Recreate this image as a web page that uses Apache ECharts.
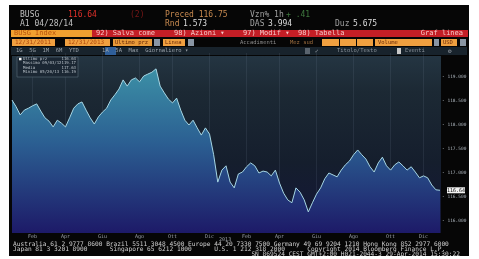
<!DOCTYPE html>
<html lang="it">
<head>
<meta charset="UTF-8">
<title>BUSG Index</title>
<script src="https://cdn.jsdelivr.net/npm/echarts@6/dist/echarts.min.js"></script>
<style>
    html, body {margin: 0; padding: 0; background: #fff;}
    #main {width: 479px; height: 259px;}
</style>
</head>
<body>
<div id="main"></div>
<script>
    // prezzo settimanale BUSG, dal 02/01/2012
    var firstWeek = '2012-01-02';
    var prices = [
        118.52, 118.38, 118.21, 118.31, 118.35, 118.40, 118.44, 118.29, 118.15, 118.08,
        117.96, 118.10, 118.04, 117.96, 118.15, 118.35, 118.44, 118.48, 118.31, 118.15,
        118.02, 118.17, 118.27, 118.35, 118.52, 118.63, 118.75, 118.94, 118.81, 118.94,
        118.98, 118.90, 119.02, 119.06, 119.10, 119.17, 118.81, 118.67, 118.54, 118.46,
        118.56, 118.31, 118.10, 118.00, 118.10, 117.94, 117.79, 117.94, 117.81, 117.38,
        116.81, 117.06, 117.15, 116.81, 116.69, 116.98, 117.02, 117.13, 117.21, 117.15,
        117.00, 117.04, 117.02, 116.94, 117.06, 116.79, 116.58, 116.44, 116.38, 116.69,
        116.60, 116.44, 116.19, 116.38, 116.56, 116.69, 116.88, 117.00, 116.96, 116.92,
        117.06, 117.17, 117.25, 117.38, 117.48, 117.38, 117.29, 117.13, 117.02, 117.21,
        117.33, 117.15, 117.06, 117.17, 117.23, 117.15, 117.06, 117.13, 117.02, 116.90,
        116.94, 116.90, 116.75, 116.65, 116.64
    ];
    var monthNames = ['Gen', 'Feb', 'Mar', 'Apr', 'Mag', 'Giu', 'Lug', 'Ago', 'Set', 'Ott', 'Nov', 'Dic'];
    var labelMonths = [1, 3, 5, 7, 9, 11];   // Feb, Apr, Giu, Ago, Ott, Dic
    var yearLabel = '2013';
    var footer = [
        'Australia 61 2 9777 8600 Brazil 5511 3048 4500 Europe 44 20 7330 7500 Germany 49 69 9204 1210 Hong Kong 852 2977 6000',
        'Japan 81 3 3201 8900      Singapore 65 6212 1000      U.S. 1 212 318 2000      Copyright 2014 Bloomberg Finance L.P.',
        'SN 869524 CEST GMT+2:00 H021-2044-3 29-Apr-2014 15:30:22'
    ];

    // date settimanali (una per prezzo)
    var weeks = [];
    var d0 = new Date(firstWeek + 'T00:00:00Z');
    for (var i = 0; i < prices.length; i++) {
        var d = new Date(d0.getTime() + i * 7 * 86400000);
        weeks.push(d.toISOString().slice(0, 10));
    }
    function isLabelWeek(idx) {
        var d = new Date(weeks[idx] + 'T00:00:00Z');
        return d.getUTCDate() <= 7 && labelMonths.indexOf(d.getUTCMonth()) >= 0;
    }
    function shortDate(s) {
        return s.slice(5, 7) + '/' + s.slice(8, 10) + '/' + s.slice(2, 4);
    }

    // statistiche per il riquadro
    var maxV = Math.max.apply(null, prices), minV = Math.min.apply(null, prices);
    var sum = 0;
    prices.forEach(function (v) { sum += v; });
    var media = sum / prices.length;
    var last = prices[prices.length - 1];
    var stats = [
        ['Ultimo prz', last.toFixed(2)],
        ['Massimo ' + shortDate(weeks[prices.indexOf(maxV)]), maxV.toFixed(2)],
        ['Media', media.toFixed(2)],
        ['Minimo ' + shortDate(weeks[prices.indexOf(minV)]), minV.toFixed(2)]
    ];

    var MONO = 'DejaVu Sans Mono';
    function txt(x, y, s, color, size, align) {
        return {
            type: 'text', x: x, y: y, z: 50,
            style: {text: s, fill: color, fontFamily: MONO, fontSize: size || 8,
                    align: align || 'left', verticalAlign: 'middle'}
        };
    }
    function box(x, y, w, h, color, z) {
        return {type: 'rect', z: z || 40, shape: {x: x, y: y, width: w, height: h}, style: {fill: color}};
    }

    var graphics = [
        // pannello nero e sfondo del grafico
        {type: 'rect', z: -20, shape: {x: 9, y: 5, width: 460, height: 251}, style: {fill: '#060606'}},
        {type: 'rect', z: -10, shape: {x: 12, y: 56, width: 429, height: 177},
            style: {fill: new echarts.graphic.LinearGradient(0, 0, 0, 1, [
                {offset: 0, color: '#243542'}, {offset: 0.2, color: '#1c2934'},
                {offset: 0.6, color: '#151e2d'}, {offset: 1, color: '#13163a'}])}},
        // intestazione
        txt(20, 15, 'BUSG', '#c0c0c0'),
        txt(68, 15, '116.64', '#e0302a'),
        txt(130, 15, '(2)', '#7a1818'),
        txt(165, 15, 'Preced 116.75', '#c88a50'),
        txt(250, 15, 'Vzn% 1h', '#a0a0a0'),
        txt(286, 15, '+ .41', '#3f7a3f'),
        txt(20, 24, 'A1 04/28/14', '#c0c0c0'),
        txt(165, 24, 'Rnd', '#c88a50'), txt(183, 24, '1.573', '#dcdcdc'),
        txt(250, 24, 'DAS', '#a0a0a0'), txt(268, 24, '3.994', '#dcdcdc'),
        txt(335, 24, 'Duz', '#a0a0a0'), txt(353, 24, '5.675', '#dcdcdc'),
        // barra rossa
        box(92, 30, 376, 7, '#c41e26'),
        box(11, 30, 81, 7, '#f0a030'),
        txt(14, 33.5, 'BUSG Index', '#b8520c', 7),
        txt(96, 33.5, '92) Salva come', '#f6c8c8', 7),
        txt(174, 33.5, '98) Azioni \u25BE', '#f6c8c8', 7),
        txt(243, 33.5, '97) Modif \u25BE', '#f6c8c8', 7),
        txt(298, 33.5, '98) Tabella', '#f6c8c8', 7),
        txt(463, 33.5, 'Graf linea', '#f6c8c8', 7, 'right'),
        // riga date
        box(12, 39, 43, 7, '#f0a040'), txt(15, 42.5, '12/31/2011', '#b0480c', 6),
        box(65, 39, 45, 7, '#f0a040'), txt(68, 42.5, '12/31/2013', '#b0480c', 6),
        box(113, 39, 39, 7, '#e89a3a'), txt(115, 42.5, 'Ultimo prz', '#6a2a08', 5.5),
        box(154, 39, 6, 7, '#8a96a4'),
        box(163, 39, 22, 7, '#f0a040'), txt(165, 42.5, 'Linea', '#6a2a08', 5.5),
        box(188, 39, 6, 7, '#8a96a4'),
        txt(240, 42.5, 'Accadimenti', '#8a8a8a', 5.5),
        txt(290, 42.5, 'Mez sud', '#a07040', 5.5),
        box(322, 39, 17, 7, '#f0a040'), box(340, 39, 16, 7, '#f0a040'), box(357, 39, 16, 7, '#f0a040'),
        box(375, 39, 57, 7, '#f0a040'), txt(378, 42.5, 'Volume', '#6a2a08', 5.5),
        box(434, 39, 5, 7, '#8a96a4'),
        box(441, 39, 16, 7, '#f0a040'), txt(443, 42.5, 'USD', '#6a2a08', 5.5),
        box(460, 39, 6, 7, '#8a96a4'),
        // riga periodi
        box(11, 47, 456, 8, '#18232c', -5),
        box(105, 47, 11, 8, '#2f5f9a', 41),
        txt(16, 51, '1G  5G  1M  6M  YTD       1A  5A  Max  Giornaliero \u25BE', '#9aa2aa', 5.5),
        box(305, 48, 5, 6, '#5a646e'),
        txt(315, 51, '\u2713', '#9aa2aa', 6),
        txt(337, 51, 'Titolo/Testo', '#8a929a', 5.5),
        box(397, 48, 4, 6, '#c8c8c8'),
        txt(405, 51, 'Eventi', '#8a929a', 5.5),
        txt(448, 51, '\u2699', '#9aa2aa', 6),
        // riquadro statistiche
        {type: 'rect', z: 45, shape: {x: 17, y: 57, width: 61, height: 20},
            style: {fill: '#1b2733', stroke: '#5d6b78', lineWidth: 0.6}},
        box(19, 57.8, 2.5, 2.5, '#ffffff', 46)
    ];
    stats.forEach(function (s, k) {
        graphics.push(txt(23, 59 + k * 4.4, s[0], '#b8c0c8', 4));
        graphics.push(txt(76, 59 + k * 4.4, s[1], '#b8c0c8', 4, 'right'));
    });
    graphics.push(txt(13, 244, footer[0], '#d0d0d0', 6.2));
    graphics.push(txt(13, 249, footer[1], '#d0d0d0', 6.2));
    graphics.push(txt(460, 254, footer[2], '#d0d0d0', 6.2, 'right'));

    var chart = echarts.init(document.getElementById('main'), null, {renderer: 'canvas'});
    var option = {
        animation: false,
        backgroundColor: '#ffffff',
        grid: {left: 12, right: 39, top: 53, bottom: 26},
        xAxis: {
            type: 'category',
            data: weeks,
            boundaryGap: false,
            axisLine: {show: false},
            axisTick: {show: false},
            axisLabel: {
                interval: function (idx) { return isLabelWeek(idx); },
                formatter: function (v) { return monthNames[+v.slice(5, 7) - 1]; },
                color: '#9aa0a8', fontSize: 5, fontFamily: MONO, margin: 1
            },
            splitLine: {
                show: true,
                interval: function (idx) { return isLabelWeek(idx); },
                lineStyle: {color: 'rgba(140,160,180,0.12)', width: 1}
            }
        },
        yAxis: {
            type: 'value',
            position: 'right',
            min: 115.75, max: 119.5, interval: 0.25,
            axisLine: {show: false},
            axisTick: {show: false},
            splitLine: {show: false},
            axisLabel: {
                showMinLabel: false, showMaxLabel: false,
                formatter: function (v) {
                    return Math.abs(v * 2 - Math.round(v * 2)) < 1e-6 ? '- ' + v.toFixed(3) : '';
                },
                color: '#a8b0b8', fontSize: 4.5, fontFamily: MONO, margin: 2
            }
        },
        series: [{
            type: 'line',
            data: prices,
            symbol: 'none',
            lineStyle: {color: '#a6d6e4', width: 1},
            areaStyle: {
                color: new echarts.graphic.LinearGradient(0, 0, 0, 1, [
                    {offset: 0, color: '#3c90a6'},
                    {offset: 0.45, color: '#2b5f92'},
                    {offset: 1, color: '#1d1a68'}
                ]),
                opacity: 1
            },
            markPoint: {
                symbol: 'rect',
                symbolSize: [18, 6],
                symbolOffset: [16, 0],
                itemStyle: {color: '#f2f2f2'},
                label: {show: true, formatter: last.toFixed(2), color: '#111', fontSize: 5, fontFamily: MONO},
                data: [{coord: [prices.length - 1, last]}]
            }
        }],
        graphic: graphics
    };
    chart.setOption(option);

    // etichetta dell'anno sotto gennaio 2013
    var janIdx = weeks.findIndex(function (w) { return w >= yearLabel + '-01-01'; });
    var janX = chart.convertToPixel({xAxisIndex: 0}, janIdx);
    option.graphic.push(txt(janX - 5, 239.5, yearLabel, '#9aa0a8', 5, 'center'));
    chart.setOption({graphic: option.graphic});
</script>
</body>
</html>
